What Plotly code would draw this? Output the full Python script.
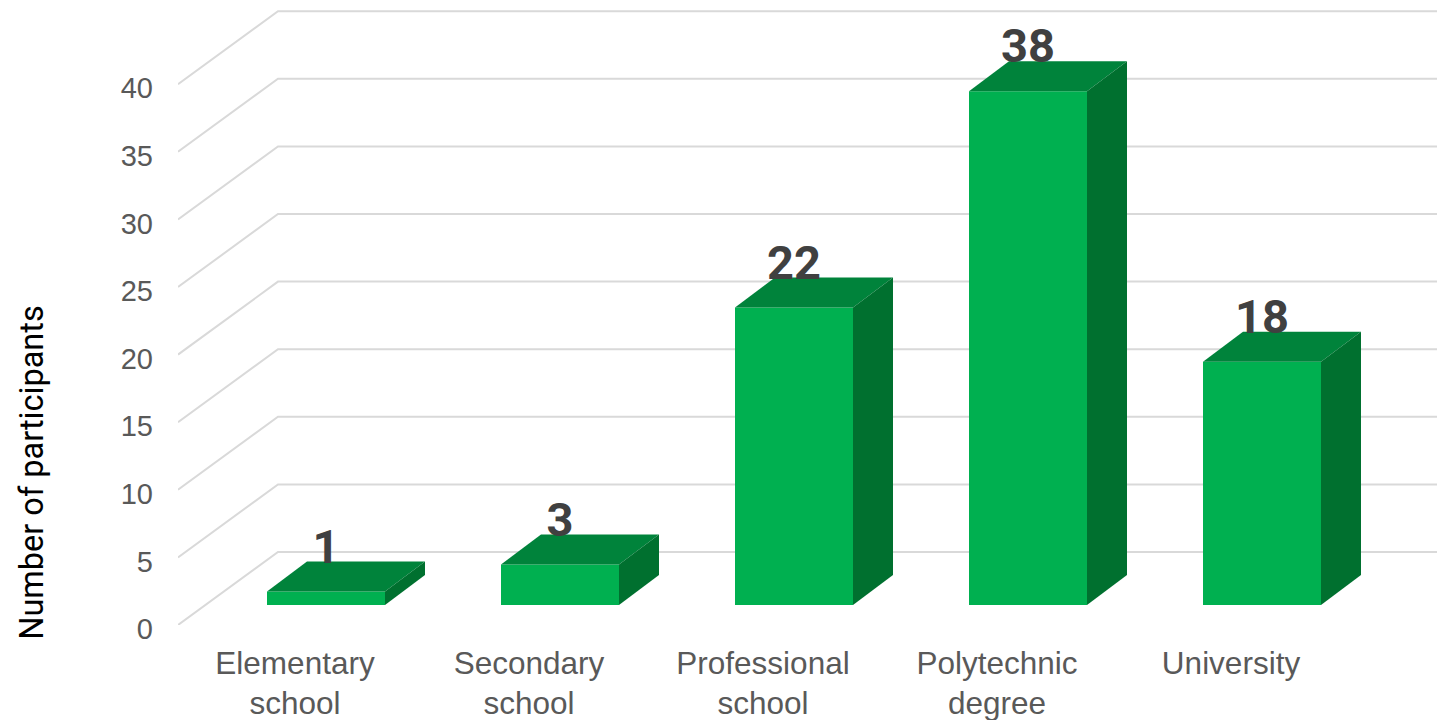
import plotly.graph_objects as go

categories = ["Elementary<br>school", "Secondary<br>school", "Professional<br>school", "Polytechnic<br>degree", "University"]
participants = [1, 3, 22, 38, 18]
y_ticks = [0, 5, 10, 15, 20, 25, 30, 35, 40]
y_title = "Number of participants"

W, H = 1437, 720
LEFT, BOTTOM = 178, 95
PX_PER_UNIT = 13.52
PX_PER_CAT = 234.0
CAT0_PX = 295.0

# oblique projection, expressed in axis units
WALL_DX, WALL_DY = 100 / PX_PER_CAT, 73 / PX_PER_UNIT
BAR_SHIFT_X, BAR_LIFT = 31 / PX_PER_CAT, 20 / PX_PER_UNIT
BAR_W = 118 / PX_PER_CAT
BAR_DX, BAR_DY = 40 / PX_PER_CAT, 30 / PX_PER_UNIT
LABEL_UP = 40.5 / PX_PER_UNIT

x_left = -0.5
x_right = (W - CAT0_PX) / PX_PER_CAT
y_top = (H - BOTTOM) / PX_PER_UNIT

GRID = "#D9D9D9"
FRONT, TOP, SIDE = "#00B050", "#00833B", "#00702F"

fig = go.Figure()

# wall + floor grid
gx, gy = [], []
for t in y_ticks:
    gx += [x_left, x_left + WALL_DX, x_right, None]
    gy += [t, t + WALL_DY, t + WALL_DY, None]
fig.add_trace(go.Scatter(x=gx, y=gy, mode="lines", line=dict(color=GRID, width=2), hoverinfo="skip", showlegend=False))

xs = list(range(len(categories)))
centers = [i + BAR_SHIFT_X for i in xs]

for c, v in zip(centers, participants):
    l, r = c - BAR_W / 2, c + BAR_W / 2
    b, t = BAR_LIFT, BAR_LIFT + v
    faces = [
        ([l, r, r, l, l], [b, b, t, t, b], FRONT),
        ([l, r, r + BAR_DX, l + BAR_DX, l], [t, t, t + BAR_DY, t + BAR_DY, t], TOP),
        ([r, r + BAR_DX, r + BAR_DX, r, r], [b, b + BAR_DY, t + BAR_DY, t, b], SIDE),
    ]
    for fx, fy, col in faces:
        fig.add_trace(go.Scatter(x=fx, y=fy, mode="lines", fill="toself", fillcolor=col, line=dict(width=0),
                                 hoverinfo="skip", showlegend=False))

fig.add_trace(go.Scatter(x=centers, y=[v + BAR_LIFT + LABEL_UP for v in participants],
                         mode="text", text=[str(v) for v in participants], textposition="middle center",
                         textfont=dict(family="Roboto", size=47, color="#404040", weight="bold"),
                         cliponaxis=False, hoverinfo="skip", showlegend=False))

fig.update_layout(
    width=W, height=H, autosize=False,
    margin=dict(l=LEFT, r=0, t=0, b=BOTTOM, pad=0),
    paper_bgcolor="white", plot_bgcolor="white",
    font=dict(family="Liberation Sans, Arial, sans-serif", color="#595959"),
    xaxis=dict(range=[x_left, x_right], tickvals=xs, ticktext=categories, showgrid=False, zeroline=False, automargin=False,
               showline=False, ticks="", ticklabelstandoff=16, tickfont=dict(size=31.5, color="#595959")),
    yaxis=dict(range=[0, y_top], tickvals=y_ticks, ticktext=[str(t) for t in y_ticks], showgrid=False, automargin=False,
               zeroline=False, showline=False, ticks="", ticklabelstandoff=24, ticklabelshift=4,
               tickfont=dict(size=29, color="#595959")),
    annotations=[dict(text=y_title, textangle=-90, xref="paper", yref="y", x=-0.1155, y=11.3,
                      showarrow=False, xanchor="center", yanchor="middle",
                      font=dict(family="Roboto", size=32.5, color="#000000"))],
)

fig.write_html("out.html", config=dict(displayModeBar=False),
               post_script="document.body.style.margin='0';document.body.style.overflow='hidden';")
